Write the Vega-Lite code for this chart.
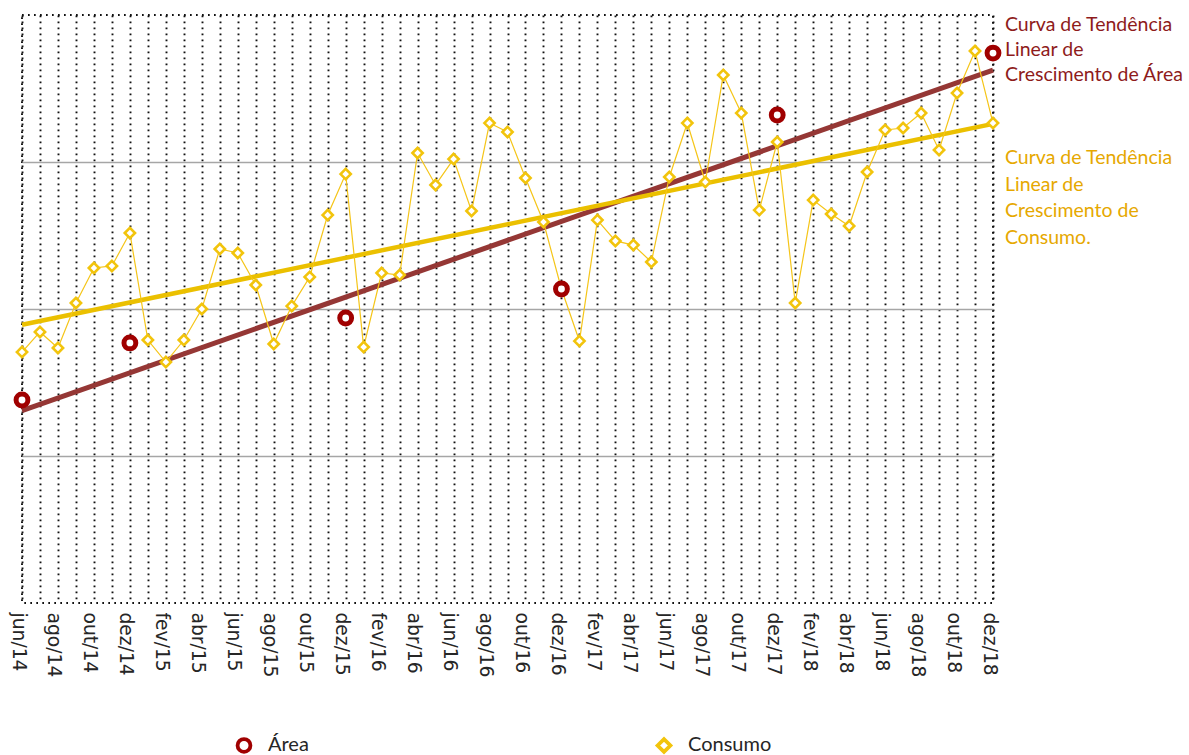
{
  "$schema": "https://vega.github.io/schema/vega-lite/v6.json",
  "width": 971,
  "height": 588,
  "autosize": {"type": "none"},
  "padding": {"left": 22, "top": 15, "right": 196, "bottom": 152},
  "background": "white",
  "config": {
    "view": {"stroke": "#111111", "strokeDash": [1.7, 4.3], "strokeWidth": 1.9},
    "axis": {"labelFont": "DejaVu Sans"}
  },
  "datasets": {
    "consumo": [
      {"i": 0, "mes": "jun/14", "serie": "Consumo", "valor": 170.7},
      {"i": 1, "mes": "jul/14", "serie": "Consumo", "valor": 184.4},
      {"i": 2, "mes": "ago/14", "serie": "Consumo", "valor": 173.5},
      {"i": 3, "mes": "set/14", "serie": "Consumo", "valor": 204.1},
      {"i": 4, "mes": "out/14", "serie": "Consumo", "valor": 227.9},
      {"i": 5, "mes": "nov/14", "serie": "Consumo", "valor": 229.3},
      {"i": 6, "mes": "dez/14", "serie": "Consumo", "valor": 251.7},
      {"i": 7, "mes": "jan/15", "serie": "Consumo", "valor": 178.9},
      {"i": 8, "mes": "fev/15", "serie": "Consumo", "valor": 163.9},
      {"i": 9, "mes": "mar/15", "serie": "Consumo", "valor": 178.9},
      {"i": 10, "mes": "abr/15", "serie": "Consumo", "valor": 200.0},
      {"i": 11, "mes": "mai/15", "serie": "Consumo", "valor": 240.8},
      {"i": 12, "mes": "jun/15", "serie": "Consumo", "valor": 238.1},
      {"i": 13, "mes": "jul/15", "serie": "Consumo", "valor": 216.3},
      {"i": 14, "mes": "ago/15", "serie": "Consumo", "valor": 176.2},
      {"i": 15, "mes": "set/15", "serie": "Consumo", "valor": 202.0},
      {"i": 16, "mes": "out/15", "serie": "Consumo", "valor": 221.8},
      {"i": 17, "mes": "nov/15", "serie": "Consumo", "valor": 263.9},
      {"i": 18, "mes": "dez/15", "serie": "Consumo", "valor": 291.8},
      {"i": 19, "mes": "jan/16", "serie": "Consumo", "valor": 174.1},
      {"i": 20, "mes": "fev/16", "serie": "Consumo", "valor": 224.5},
      {"i": 21, "mes": "mar/16", "serie": "Consumo", "valor": 223.1},
      {"i": 22, "mes": "abr/16", "serie": "Consumo", "valor": 306.1},
      {"i": 23, "mes": "mai/16", "serie": "Consumo", "valor": 284.4},
      {"i": 24, "mes": "jun/16", "serie": "Consumo", "valor": 302.0},
      {"i": 25, "mes": "jul/16", "serie": "Consumo", "valor": 266.7},
      {"i": 26, "mes": "ago/16", "serie": "Consumo", "valor": 326.5},
      {"i": 27, "mes": "set/16", "serie": "Consumo", "valor": 320.4},
      {"i": 28, "mes": "out/16", "serie": "Consumo", "valor": 289.1},
      {"i": 29, "mes": "nov/16", "serie": "Consumo", "valor": 259.2},
      {"i": 30, "mes": "dez/16", "serie": "Consumo", "valor": 213.6},
      {"i": 31, "mes": "jan/17", "serie": "Consumo", "valor": 178.2},
      {"i": 32, "mes": "fev/17", "serie": "Consumo", "valor": 260.5},
      {"i": 33, "mes": "mar/17", "serie": "Consumo", "valor": 246.3},
      {"i": 34, "mes": "abr/17", "serie": "Consumo", "valor": 243.5},
      {"i": 35, "mes": "mai/17", "serie": "Consumo", "valor": 232.0},
      {"i": 36, "mes": "jun/17", "serie": "Consumo", "valor": 289.8},
      {"i": 37, "mes": "jul/17", "serie": "Consumo", "valor": 326.5},
      {"i": 38, "mes": "ago/17", "serie": "Consumo", "valor": 286.4},
      {"i": 39, "mes": "set/17", "serie": "Consumo", "valor": 359.2},
      {"i": 40, "mes": "out/17", "serie": "Consumo", "valor": 333.3},
      {"i": 41, "mes": "nov/17", "serie": "Consumo", "valor": 267.3},
      {"i": 42, "mes": "dez/17", "serie": "Consumo", "valor": 313.6},
      {"i": 43, "mes": "jan/18", "serie": "Consumo", "valor": 204.1},
      {"i": 44, "mes": "fev/18", "serie": "Consumo", "valor": 274.1},
      {"i": 45, "mes": "mar/18", "serie": "Consumo", "valor": 264.6},
      {"i": 46, "mes": "abr/18", "serie": "Consumo", "valor": 256.5},
      {"i": 47, "mes": "mai/18", "serie": "Consumo", "valor": 293.2},
      {"i": 48, "mes": "jun/18", "serie": "Consumo", "valor": 321.8},
      {"i": 49, "mes": "jul/18", "serie": "Consumo", "valor": 323.1},
      {"i": 50, "mes": "ago/18", "serie": "Consumo", "valor": 333.3},
      {"i": 51, "mes": "set/18", "serie": "Consumo", "valor": 308.2},
      {"i": 52, "mes": "out/18", "serie": "Consumo", "valor": 346.9},
      {"i": 53, "mes": "nov/18", "serie": "Consumo", "valor": 375.5},
      {"i": 54, "mes": "dez/18", "serie": "Consumo", "valor": 326.5}
    ],
    "area": [
      {"i": 0, "mes": "jun/14", "serie": "Área", "valor": 138.1},
      {"i": 6, "mes": "dez/14", "serie": "Área", "valor": 176.9},
      {"i": 18, "mes": "dez/15", "serie": "Área", "valor": 193.9},
      {"i": 30, "mes": "dez/16", "serie": "Área", "valor": 213.6},
      {"i": 42, "mes": "dez/17", "serie": "Área", "valor": 332.0},
      {"i": 54, "mes": "dez/18", "serie": "Área", "valor": 374.1}
    ],
    "notasArea": [
      {"i": 54, "valor": 393.2, "texto": "Curva de Tendência"},
      {"i": 54, "valor": 376.2, "texto": "Linear de"},
      {"i": 54, "valor": 359.2, "texto": "Crescimento de Área"}
    ],
    "notasConsumo": [
      {"i": 54, "valor": 302.7, "texto": "Curva de Tendência"},
      {"i": 54, "valor": 284.4, "texto": "Linear de"},
      {"i": 54, "valor": 266.7, "texto": "Crescimento de"},
      {"i": 54, "valor": 248.3, "texto": "Consumo."}
    ]
  },
  "encoding": {
    "x": {
      "field": "i", "type": "quantitative",
      "scale": {"domain": [0, 54], "nice": false, "zero": false},
      "axis": {
        "values": [0,1,2,3,4,5,6,7,8,9,10,11,12,13,14,15,16,17,18,19,20,21,22,23,24,25,26,27,28,29,30,31,32,33,34,35,36,37,38,39,40,41,42,43,44,45,46,47,48,49,50,51,52,53,54],
        "grid": true, "gridColor": "#111111", "gridDash": [1.7, 4.3], "gridWidth": 1.9,
        "ticks": false, "domain": false, "title": null,
        "labelAngle": 90, "labelFont": "DejaVu Sans", "labelFontSize": 18.7, "labelColor": "#262626",
        "labelPadding": 9, "labelOffset": -4, "labelOverlap": false, "labelBound": false, "labelFlush": false,
        "labelExpr": "datum.value % 2 == 0 ? ['jan','fev','mar','abr','mai','jun','jul','ago','set','out','nov','dez'][(datum.value + 5) % 12] + '/' + (14 + floor((datum.value + 5) / 12)) : ''"
      }
    },
    "y": {
      "field": "valor", "type": "quantitative",
      "scale": {"domain": [0, 400], "nice": false, "zero": false},
      "axis": {
        "values": [100, 200, 300], "grid": true, "gridColor": "#a6a6a6", "gridWidth": 1.6,
        "labels": false, "ticks": false, "domain": false, "title": null
      }
    }
  },
  "layer": [
    {
      "data": {"name": "area"},
      "transform": [{"regression": "valor", "on": "i"}],
      "mark": {"type": "line", "color": "#953735", "strokeWidth": 5, "strokeCap": "butt"}
    },
    {
      "data": {"name": "consumo"},
      "transform": [{"regression": "valor", "on": "i"}],
      "mark": {"type": "line", "color": "#EBC000", "strokeWidth": 4.5, "strokeCap": "butt"}
    },
    {
      "data": {"name": "consumo"},
      "mark": {"type": "line", "color": "#F5C518", "strokeWidth": 1.2}
    },
    {
      "data": {"name": "consumo"},
      "mark": {"type": "point", "fill": "white", "fillOpacity": 1, "filled": false, "strokeWidth": 2.6, "size": 105, "opacity": 1},
      "encoding": {
        "stroke": {
          "field": "serie", "type": "nominal",
          "scale": {"domain": ["Área", "Consumo"], "range": ["#A00000", "#F2C40C"]},
          "legend": {
            "orient": "none", "legendX": 212, "legendY": 720, "direction": "horizontal",
            "title": null, "padding": 0, "columnPadding": 340,
            "labelFont": "Lato", "labelFontSize": 20, "labelColor": "#262626", "labelOffset": 14,
            "symbolSize": 165, "symbolStrokeWidth": 3.8, "symbolFillColor": "white"
          }
        },
        "shape": {
          "field": "serie", "type": "nominal",
          "scale": {"domain": ["Área", "Consumo"], "range": ["circle", "diamond"]}
        }
      }
    },
    {
      "data": {"name": "area"},
      "mark": {"type": "point", "fill": "white", "fillOpacity": 1, "filled": false, "strokeWidth": 5, "size": 140, "opacity": 1},
      "encoding": {
        "stroke": {"field": "serie", "type": "nominal"},
        "shape": {"field": "serie", "type": "nominal"}
      }
    },
    {
      "data": {"name": "notasArea"},
      "mark": {"type": "text", "align": "left", "baseline": "middle", "dx": 12, "font": "Lato", "fontSize": 19.5, "color": "#8E1B1B"},
      "encoding": {"text": {"field": "texto"}}
    },
    {
      "data": {"name": "notasConsumo"},
      "mark": {"type": "text", "align": "left", "baseline": "middle", "dx": 12, "font": "Lato", "fontSize": 19.5, "color": "#E6A800"},
      "encoding": {"text": {"field": "texto"}}
    }
  ]
}
